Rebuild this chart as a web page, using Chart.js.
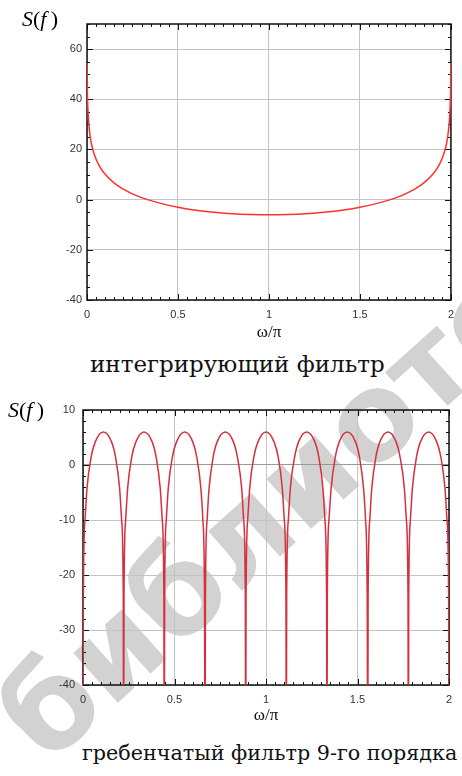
<!DOCTYPE html>
<html>
<head>
<meta charset="utf-8">
<script src="https://cdn.jsdelivr.net/npm/chart.js@4.4.1/dist/chart.umd.min.js"></script>
<style>
  body { margin: 0; background: #fff; }
  #page { position: relative; width: 462px; height: 776px; overflow: hidden; background: #fff; }
  canvas { position: absolute; left: 0; z-index: 2; }
  .sf { position: absolute; font-family: 'Liberation Serif', serif; font-size: 22px; color: #000; z-index: 3; }
  .sf i { font-style: italic; }
  .cap { position: absolute; font-family: 'DejaVu Serif', serif; color: #111; white-space: nowrap; z-index: 3; }
  #wm { position: absolute; left: -22px; top: 690px; transform-origin: 0 0; transform: rotate(-42deg);
        font-family: 'DejaVu Sans', sans-serif; font-weight: bold; font-size: 122px; line-height: 1;
        color: #d2d2d2; white-space: nowrap; pointer-events: none; z-index: 1; }
</style>
</head>
<body>
<div id="page">
  <div id="wm">библиотека</div>
  <canvas id="integr" width="462" height="345" style="top:0"></canvas>
  <canvas id="comb" width="462" height="350" style="top:380px"></canvas>
  <div class="sf" style="left:22px; top:6px"><i>S</i>(<i>f</i>&thinsp;)</div>
  <div class="sf" style="left:8px; top:397px"><i>S</i>(<i>f</i>&thinsp;)</div>
  <div class="cap" style="left:90px; top:351px; font-size:23px">интегрирующий фильтр</div>
  <div class="cap" style="left:82px; top:741px; font-size:20.7px">гребенчатый фильтр 9-го порядка</div>
</div>
<script>
// интегрирующий фильтр, дБ
const integrX = [0.0006, 0.002, 0.005, 0.01, 0.02, 0.03, 0.05, 0.075, 0.1, 0.15, 0.2, 0.25, 0.3, 0.4, 0.5, 0.6, 0.7, 0.8, 0.9,
                 1.0,
                 1.1, 1.2, 1.3, 1.4, 1.5, 1.6, 1.7, 1.75, 1.8, 1.85, 1.9, 1.925, 1.95, 1.97, 1.98, 1.99, 1.995, 1.998, 1.9994];
const integrY = [54.5, 44.0, 36.1, 30.1, 24.0, 20.5, 16.1, 12.6, 10.1, 6.6, 4.2, 2.3, 0.8, -1.4, -3.0, -4.2, -5.0, -5.6, -5.9,
                 -6.0,
                 -5.9, -5.6, -5.0, -4.2, -3.0, -1.4, 0.8, 2.3, 4.2, 6.6, 10.1, 12.6, 16.1, 20.5, 24.0, 30.1, 36.1, 44.0, 54.5];

// гребенчатый фильтр 9-го порядка, дБ (нули уходят за нижний край)
const combX = [
  0, 0.002, 0.011, 0.022, 0.044, 0.067, 0.111, 0.156, 0.178, 0.2, 0.211, 0.22,
  0.222, 0.224, 0.233, 0.244, 0.266, 0.289, 0.333, 0.378, 0.4, 0.422, 0.433, 0.442,
  0.444, 0.446, 0.455, 0.466, 0.488, 0.511, 0.556, 0.6, 0.622, 0.644, 0.655, 0.664,
  0.667, 0.669, 0.678, 0.689, 0.711, 0.733, 0.778, 0.822, 0.844, 0.867, 0.878, 0.887,
  0.889, 0.891, 0.9, 0.911, 0.933, 0.956, 1.0, 1.044, 1.067, 1.089, 1.1, 1.109,
  1.111, 1.113, 1.122, 1.133, 1.156, 1.178, 1.222, 1.267, 1.289, 1.311, 1.322, 1.331,
  1.333, 1.335, 1.344, 1.356, 1.378, 1.4, 1.444, 1.489, 1.511, 1.533, 1.544, 1.553,
  1.556, 1.558, 1.567, 1.578, 1.6, 1.622, 1.667, 1.711, 1.733, 1.756, 1.767, 1.776,
  1.778, 1.78, 1.789, 1.8, 1.822, 1.844, 1.889, 1.933, 1.956, 1.978, 1.989, 1.998,
  2.0
];
const combY = [
  -60, -24, -10, -4.2, 1.4, 4.2, 6.0, 4.2, 1.4, -4.2, -10, -24,
  -60, -24, -10, -4.2, 1.4, 4.2, 6.0, 4.2, 1.4, -4.2, -10, -24,
  -60, -24, -10, -4.2, 1.4, 4.2, 6.0, 4.2, 1.4, -4.2, -10, -24,
  -60, -24, -10, -4.2, 1.4, 4.2, 6.0, 4.2, 1.4, -4.2, -10, -24,
  -60, -24, -10, -4.2, 1.4, 4.2, 6.0, 4.2, 1.4, -4.2, -10, -24,
  -60, -24, -10, -4.2, 1.4, 4.2, 6.0, 4.2, 1.4, -4.2, -10, -24,
  -60, -24, -10, -4.2, 1.4, 4.2, 6.0, 4.2, 1.4, -4.2, -10, -24,
  -60, -24, -10, -4.2, 1.4, 4.2, 6.0, 4.2, 1.4, -4.2, -10, -24,
  -60, -24, -10, -4.2, 1.4, 4.2, 6.0, 4.2, 1.4, -4.2, -10, -24,
  -60
];

const xTicks = [0, 0.5, 1, 1.5, 2];
const integrTicks = [-40, -20, 0, 20, 40, 60];
const combTicks = [-40, -30, -20, -10, 0, 10];

// рамка и внутренние засечки (под кривой)
const frameTicks = {
  id: 'frameTicks',
  beforeDatasetsDraw(chart, args, o) {
    const { ctx, chartArea: a, scales: { x, y } } = chart;
    ctx.save();
    ctx.strokeStyle = '#111';
    ctx.lineWidth = 1;
    ctx.beginPath();
    const nx = Math.round((x.max - x.min) / o.xMinor);
    for (let i = 0; i <= nx; i++) {
      const len = i % o.xEvery === 0 ? 6 : 3;
      const px = Math.round(x.getPixelForValue(x.min + i * o.xMinor)) + 0.5;
      ctx.moveTo(px, a.bottom); ctx.lineTo(px, a.bottom - len);
      ctx.moveTo(px, a.top); ctx.lineTo(px, a.top + len);
    }
    const ny = Math.round((y.max - y.min) / o.yMinor);
    for (let i = 0; i <= ny; i++) {
      const len = i % o.yEvery === 0 ? 6 : 3;
      const py = Math.round(y.getPixelForValue(y.min + i * o.yMinor)) + 0.5;
      ctx.moveTo(a.left, py); ctx.lineTo(a.left + len, py);
      ctx.moveTo(a.right, py); ctx.lineTo(a.right - len, py);
    }
    ctx.stroke();
    ctx.lineWidth = 1.5;
    ctx.strokeRect(a.left, a.top, a.width, a.height);
    ctx.restore();
  }
};

function makeChart(id, xs, ys, color, yMin, yMax, yTicks, opt) {
  return new Chart(document.getElementById(id), {
    type: 'line',
    data: {
      datasets: [{
        data: xs.map((v, i) => ({ x: v, y: ys[i] })),
        borderColor: color,
        borderWidth: 1.5,
        pointRadius: 0,
        cubicInterpolationMode: 'monotone',
        fill: false
      }]
    },
    plugins: [frameTicks],
    options: {
      responsive: false,
      animation: false,
      layout: { padding: { left: 0, top: opt.top, right: opt.right, bottom: 0 } },
      plugins: {
        legend: { display: false },
        tooltip: { enabled: false },
        frameTicks: { xMinor: 0.05, xEvery: 10, yMinor: opt.yMinor, yEvery: opt.yEvery }
      },
      scales: {
        x: {
          type: 'linear', min: 0, max: 2,
          afterBuildTicks: s => { s.ticks = xTicks.map(v => ({ value: v })); },
          afterFit: s => { s.height = 45; },
          ticks: { padding: 8, color: '#333', font: { family: 'Liberation Sans', size: 11 }, maxRotation: 0,
                   callback: v => String(v) },
          grid: { color: '#c4c4c4', drawTicks: false },
          border: { display: false },
          title: { display: true, text: 'ω/π', color: '#111',
                   font: { family: 'Liberation Serif', size: 17 }, padding: { top: 0, bottom: opt.titleBottom } }
        },
        y: {
          min: yMin, max: yMax,
          afterBuildTicks: s => { s.ticks = yTicks.map(v => ({ value: v })); },
          afterFit: s => { s.width = opt.left; },
          ticks: { padding: opt.yPad, color: '#333', font: { family: 'Liberation Sans', size: 11 },
                   callback: v => String(v) },
          grid: { color: c => (opt.zeroDark && c.tick && c.tick.value === 0) ? '#9a9a9a' : '#c4c4c4', drawTicks: false },
          border: { display: false }
        }
      }
    }
  });
}

makeChart('integr', integrX, integrY, '#ff3030', -40, 70, integrTicks,
  { top: 24, right: 10, left: 87, yPad: 5, yMinor: 5, yEvery: 4, titleBottom: 2, zeroDark: false });
makeChart('comb', combX, combY, '#d6303e', -40, 10, combTicks,
  { top: 30, right: 13, left: 83, yPad: 8, yMinor: 2, yEvery: 5, titleBottom: 4, zeroDark: true });
</script>
</body>
</html>
